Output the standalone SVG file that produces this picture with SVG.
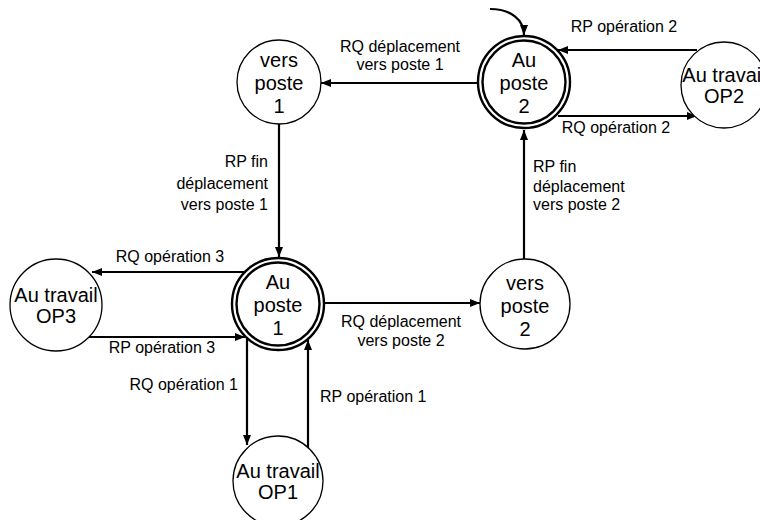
<svg xmlns="http://www.w3.org/2000/svg" width="760" height="520" viewBox="0 0 760 520">
<defs>
<marker id="ah" markerWidth="10" markerHeight="8" refX="10" refY="4" orient="auto" markerUnits="userSpaceOnUse">
<path d="M0,0 L10,4 L0,8 Z" fill="#000"/>
</marker>
<style>
.st{fill:#fff;stroke:#000;stroke-width:1.3}
.dbl{fill:#fff;stroke:#000;stroke-width:2.4}
.nt{font-family:"Liberation Sans",Arial,sans-serif;font-size:20px;fill:#000;text-anchor:middle}
.lb{font-family:"Liberation Sans",Arial,sans-serif;font-size:16px;fill:#000}
.c{text-anchor:middle}
.e{text-anchor:end}
.cn{fill:none;stroke:#000;stroke-width:2.2;marker-end:url(#ah)}
</style>
</defs>
<rect width="760" height="520" fill="#fff"/>
<g id="connectors">
<path class="cn" d="M490,9 C511,9 524,20 524,35"/>
<path class="cn" d="M477,83 L321,83"/>
<path class="cn" d="M697,50 L558,50"/>
<path class="cn" d="M558,116 L697,116"/>
<path class="cn" d="M279,124 L279,257"/>
<path class="cn" d="M244,272 L92,272"/>
<path class="cn" d="M89,337 L245,337"/>
<path class="cn" d="M247,339 L247,445"/>
<path class="cn" d="M308,448 L308,340"/>
<path class="cn" d="M325,303 L480,303"/>
<path class="cn" d="M524,259 L524,130"/>
<text class="lb c" x="624" y="32">RP opération 2</text>
<text class="lb c" x="616" y="133">RQ opération 2</text>
<text class="lb c" x="400" y="52">RQ déplacement</text>
<text class="lb c" x="400" y="70">vers poste 1</text>
<text class="lb e" x="268" y="167">RP fin</text>
<text class="lb e" x="268" y="189">déplacement</text>
<text class="lb e" x="268" y="210">vers poste 1</text>
<text class="lb" x="533" y="172">RP fin</text>
<text class="lb" x="533" y="192">déplacement</text>
<text class="lb" x="533" y="210">vers poste 2</text>
<text class="lb c" x="170" y="262">RQ opération 3</text>
<text class="lb c" x="162" y="353">RP opération 3</text>
<text class="lb c" x="401" y="327">RQ déplacement</text>
<text class="lb c" x="401" y="346">vers poste 2</text>
<text class="lb e" x="238" y="390">RQ opération 1</text>
<text class="lb" x="320" y="402">RP opération 1</text>
</g>
<g id="au-poste-2">
<circle class="dbl" cx="524" cy="82" r="46"/>
<circle class="dbl" cx="524" cy="82" r="41.5"/>
<text class="nt" x="524" y="67">Au</text>
<text class="nt" x="524" y="90">poste</text>
<text class="nt" x="524" y="113">2</text>
</g>
<g id="au-travail-op2">
<circle class="st" cx="724" cy="85" r="43"/>
<text class="nt" x="724" y="82">Au travail</text>
<text class="nt" x="724" y="103">OP2</text>
</g>
<g id="vers-poste-1">
<circle class="st" cx="279" cy="82" r="42"/>
<text class="nt" x="279" y="67">vers</text>
<text class="nt" x="279" y="90">poste</text>
<text class="nt" x="279" y="113">1</text>
</g>
<g id="au-poste-1">
<circle class="dbl" cx="278" cy="304" r="46"/>
<circle class="dbl" cx="278" cy="304" r="41.5"/>
<text class="nt" x="278" y="289">Au</text>
<text class="nt" x="278" y="312">poste</text>
<text class="nt" x="278" y="335">1</text>
</g>
<g id="au-travail-op3">
<circle class="st" cx="56" cy="305" r="46"/>
<text class="nt" x="56" y="302">Au travail</text>
<text class="nt" x="56" y="323">OP3</text>
</g>
<g id="vers-poste-2">
<circle class="st" cx="525" cy="304" r="45"/>
<text class="nt" x="525" y="290">vers</text>
<text class="nt" x="525" y="313">poste</text>
<text class="nt" x="525" y="336">2</text>
</g>
<g id="au-travail-op1">
<circle class="st" cx="278" cy="481" r="45"/>
<text class="nt" x="278" y="478">Au travail</text>
<text class="nt" x="278" y="499">OP1</text>
</g>
</svg>
